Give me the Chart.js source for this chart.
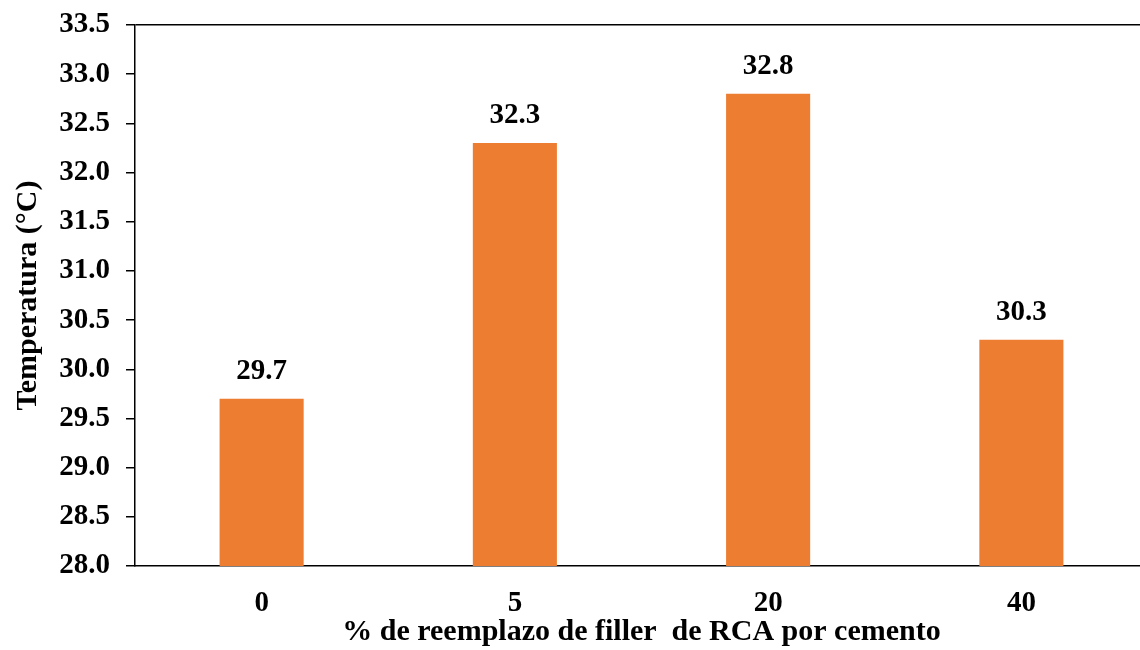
<!DOCTYPE html>
<html>
<head>
<meta charset="utf-8">
<script src="https://cdn.jsdelivr.net/npm/chart.js@4"></script>
<style>
  body { margin: 0; background: #fff; overflow: hidden; }
  #wrap { width: 1148px; height: 650px; }
</style>
</head>
<body>
<div id="wrap"><canvas id="chart" width="1148" height="650"></canvas></div>
<script>
const categories = ['0', '5', '20', '40'];
const temperaturas = [29.7, 32.3, 32.8, 30.3];
const yMin = 28.0;
const yMax = 33.5;
const yStep = 0.5;

const FONT = '"Liberation Serif", "Times New Roman", serif';
const BAR_COLOR = '#ED7D31';

// draw the value above every bar
const valueLabels = {
  id: 'valueLabels',
  afterDatasetsDraw(chart) {
    const ctx = chart.ctx;
    const meta = chart.getDatasetMeta(0);
    ctx.save();
    ctx.font = 'bold 29px ' + FONT;
    ctx.fillStyle = '#000';
    ctx.textAlign = 'center';
    ctx.textBaseline = 'alphabetic';
    meta.data.forEach((bar, i) => {
      ctx.fillText(temperaturas[i].toFixed(1), bar.x, bar.y - 20);
    });
    ctx.restore();
  }
};

new Chart(document.getElementById('chart'), {
  type: 'bar',
  data: {
    labels: categories,
    datasets: [{
      data: temperaturas,
      backgroundColor: BAR_COLOR,
      borderWidth: 0,
      barPercentage: 1,
      categoryPercentage: 0.332
    }]
  },
  options: {
    responsive: false,
    animation: false,
    layout: { padding: { top: 25, left: 0, right: 0, bottom: 0 } },
    plugins: {
      legend: { display: false },
      tooltip: { enabled: false }
    },
    scales: {
      x: {
        grid: { display: false, drawTicks: false },
        border: { color: '#000', width: 1.5 },
        ticks: {
          color: '#000',
          padding: 20,
          font: { family: FONT, size: 29, weight: 'bold' }
        },
        title: {
          display: true,
          text: '% de reemplazo de filler  de RCA por cemento',
          color: '#000',
          padding: { top: 2, bottom: 0 },
          font: { family: FONT, size: 30, weight: 'bold' }
        },
        afterFit(scale) { scale.height = 84; }
      },
      y: {
        min: yMin,
        max: yMax,
        grid: {
          color: (c) => (c.tick && c.tick.value === yMax ? '#000' : 'rgba(0,0,0,0)'),
          tickColor: '#000',
          tickLength: 9,
          lineWidth: 1.5
        },
        border: { color: '#000', width: 1.5 },
        ticks: {
          stepSize: yStep,
          color: '#000',
          padding: 16,
          font: { family: FONT, size: 29, weight: 'bold' },
          callback: (v) => Number(v).toFixed(1)
        },
        title: {
          display: true,
          text: 'Temperatura (°C)',
          color: '#000',
          padding: { top: 10, bottom: 0 },
          font: { family: FONT, size: 30, weight: 'bold' }
        },
        afterFit(scale) {
          scale.width = 135;
          scale.paddingTop = 0;
          scale.paddingBottom = 0;
        }
      }
    }
  },
  plugins: [valueLabels]
});
</script>
</body>
</html>
